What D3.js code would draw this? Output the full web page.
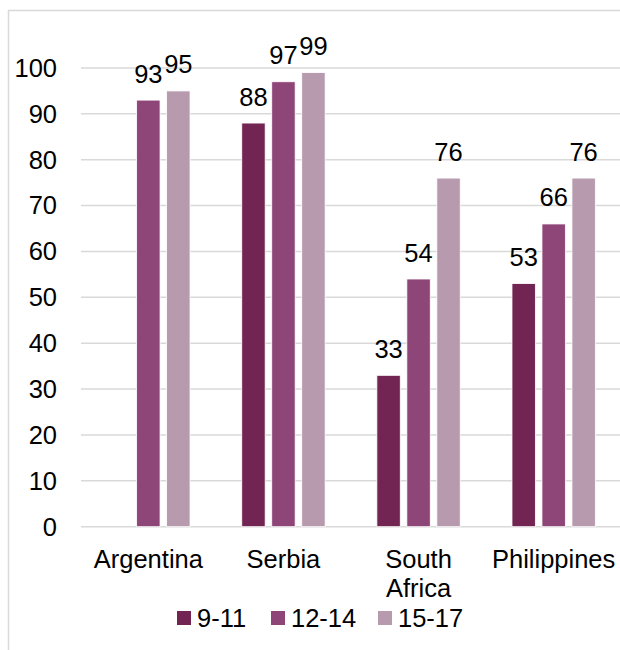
<!DOCTYPE html>
<html>
<head>
<meta charset="utf-8">
<script src="https://cdn.jsdelivr.net/npm/d3@7"></script>
<style>
  body { margin: 0; background: #fff; }
  text { font-family: "Liberation Sans", Arial, sans-serif; fill: #000; }
</style>
</head>
<body>
<div id="chart"></div>
<script>
// chart data
var countries = ["Argentina", "Serbia", "South Africa", "Philippines"];
var groups = ["9-11", "12-14", "15-17"];
var age9_11 = [null, 88, 33, 53];
var age12_14 = [93, 97, 54, 66];
var age15_17 = [95, 99, 76, 76];
var yTicks = [0, 10, 20, 30, 40, 50, 60, 70, 80, 90, 100];
var colors = ["#722552", "#8e4577", "#b89aae"];

var series = [age9_11, age12_14, age15_17];

var width = 620, height = 650;
var margin = { top: 68, right: -1, bottom: 123, left: 81 };
var fs = "25.5px";

var svg = d3.select("#chart").append("svg")
    .attr("width", width)
    .attr("height", height);

// outer chart border
svg.append("rect")
    .attr("x", 8.5).attr("y", 10.5)
    .attr("width", 640).attr("height", 660)
    .attr("fill", "none")
    .attr("stroke", "#d9d9d9")
    .attr("stroke-width", 1.5);

var x0 = d3.scaleBand()
    .domain(countries)
    .range([margin.left, width - margin.right])
    .paddingInner(0.383)
    .paddingOuter(0.19);

var x1 = d3.scaleBand()
    .domain(groups)
    .range([0, x0.bandwidth()])
    .paddingInner(0.22)
    .paddingOuter(0);

var y = d3.scaleLinear()
    .domain([0, 100])
    .range([height - margin.bottom - 0.3, margin.top]);

// gridlines
svg.append("g")
    .selectAll("line")
    .data(yTicks)
    .enter().append("line")
    .attr("x1", margin.left)
    .attr("x2", width)
    .attr("y1", function(d) { return y(d) })
    .attr("y2", function(d) { return y(d) })
    .attr("stroke", "#d9d9d9")
    .attr("stroke-width", 1.5);

// y axis labels
svg.append("g")
    .selectAll("text")
    .data(yTicks)
    .enter().append("text")
    .attr("x", 57)
    .attr("y", function(d) { return y(d) + 8.8 })
    .attr("text-anchor", "end")
    .style("font-size", fs)
    .text(function(d) { return d });

// bars + labels
var rows = [];
countries.forEach(function(c, i) {
    groups.forEach(function(g, j) {
        if (series[j][i] != null) rows.push({ country: c, group: g, idx: j, value: series[j][i] });
    });
});

var bars = svg.append("g");
bars.selectAll("rect")
    .data(rows)
    .enter().append("rect")
    .attr("x", function(d) { return x0(d.country) + x1(d.group) })
    .attr("width", x1.bandwidth())
    .attr("y", function(d) { return y(d.value) })
    .attr("height", function(d) { return y(0) - y(d.value) })
    .attr("fill", function(d) { return colors[d.idx] })
    .attr("stroke", "#fff")
    .attr("stroke-width", 0.8);

svg.append("g")
    .selectAll("text")
    .data(rows)
    .enter().append("text")
    .attr("x", function(d) { return x0(d.country) + x1(d.group) + x1.bandwidth() / 2 })
    .attr("y", function(d) { return y(d.value) - 17.5 })
    .attr("text-anchor", "middle")
    .style("font-size", fs)
    .text(function(d) { return d.value });

// x axis labels (wrap South Africa)
var xl = svg.append("g")
    .selectAll("text")
    .data(countries)
    .enter().append("text")
    .attr("text-anchor", "middle")
    .style("font-size", fs)
    .attr("y", 567.5);

xl.each(function(d) {
    var words = d == "South Africa" ? ["South", "Africa"] : [d];
    var t = d3.select(this);
    words.forEach(function(w, k) {
        t.append("tspan")
            .attr("x", x0(d) + x0.bandwidth() / 2)
            .attr("dy", k == 0 ? 0 : 29.5)
            .text(w);
    });
});

// legend
var legX = [177, 271, 378];
var legend = svg.append("g")
    .selectAll("g")
    .data(groups)
    .enter().append("g")
    .attr("transform", function(d, i) { return "translate(" + legX[i] + ",611)" });

legend.append("rect")
    .attr("width", 14).attr("height", 14)
    .attr("fill", function(d, i) { return colors[i] });

legend.append("text")
    .attr("x", 20)
    .attr("y", 16)
    .style("font-size", fs)
    .text(function(d) { return d });
</script>
</body>
</html>
